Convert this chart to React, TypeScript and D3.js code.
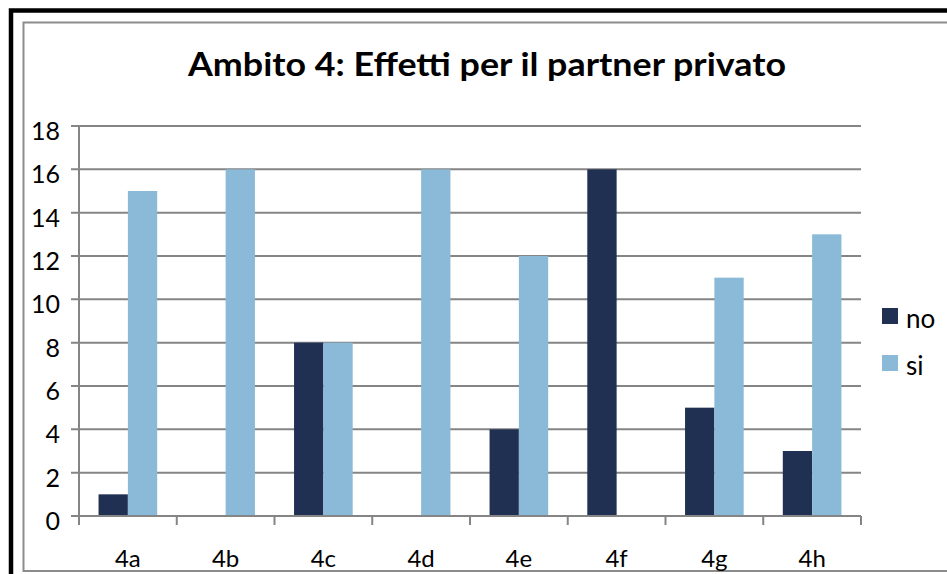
import React, { useEffect, useRef } from 'react';
import * as d3 from 'd3';

const categories = ['4a', '4b', '4c', '4d', '4e', '4f', '4g', '4h'];
const seriesNames = ['no', 'si'];
const noValues = [1, 0, 8, 0, 4, 16, 5, 3];
const siValues = [15, 16, 8, 16, 12, 0, 11, 13];
const yTicks = [0, 2, 4, 6, 8, 10, 12, 14, 16, 18];
const title = 'Ambito 4: Effetti per il partner privato';

const colours = ['#203052', '#8bbad8'];

export default function App() {
    const width = 947;
    const height = 574;
    const marginLeft = 79;
    const marginRight = 86;
    const marginTop = 126;
    const marginBottom = 58;

    const ref = useRef(null);

    useEffect(() => {
        const svg = d3.select(ref.current);
        svg.selectAll('*').remove();

        const font = 'Lato, "Open Sans", sans-serif';

        // frame
        svg.append('rect')
            .attr('x', 11).attr('y', 10.5)
            .attr('width', 1000).attr('height', 1000)
            .attr('fill', 'none').attr('stroke', '#000').attr('stroke-width', 4.5);
        svg.append('rect')
            .attr('x', 23.5).attr('y', 22.5)
            .attr('width', 1000).attr('height', 548.5)
            .attr('fill', 'none').attr('stroke', '#8c8c8c').attr('stroke-width', 2);

        const x0 = d3.scaleBand()
            .domain(categories)
            .range([marginLeft, width - marginRight])
            .paddingInner(0)
            .paddingOuter(0);
        const gap = x0.bandwidth() * 0.2;
        const x1 = d3.scaleBand()
            .domain(seriesNames)
            .range([gap, x0.bandwidth() - gap]);
        const y = d3.scaleLinear()
            .domain([0, 18])
            .range([height - marginBottom, marginTop]);

        const grid = '#858585';

        // gridlines + left tick marks
        svg.append('g')
            .selectAll('line')
            .data(yTicks)
            .enter()
            .append('line')
              .attr('x1', marginLeft - 8)
              .attr('x2', width - marginRight)
              .attr('y1', d => y(d))
              .attr('y2', d => y(d))
              .attr('stroke', grid)
              .attr('stroke-width', 2);

        svg.append('g')
            .selectAll('text')
            .data(yTicks)
            .enter()
            .append('text')
              .attr('x', 60)
              .attr('y', d => y(d) + 14)
              .attr('text-anchor', 'end')
              .attr('font-family', font)
              .attr('font-size', 25)
              .attr('fill', '#000')
              .text(d => d);

        const data = categories.map((c, i) => ({ cat: c, values: [noValues[i], siValues[i]] }));

        const groups = svg.append('g')
            .selectAll('g')
            .data(data)
            .enter()
            .append('g')
              .attr('transform', d => `translate(${x0(d.cat)}, 0)`);

        groups.selectAll('rect')
            .data(d => d.values.map((v, j) => ({ key: seriesNames[j], v, j })))
            .enter()
            .append('rect')
              .attr('x', d => x1(d.key) as number)
              .attr('y', d => y(d.v))
              .attr('width', x1.bandwidth())
              .attr('height', d => y(0) - y(d.v))
              .attr('fill', d => colours[d.j]);

        // axes lines
        svg.append('line')
            .attr('x1', marginLeft).attr('x2', marginLeft)
            .attr('y1', y(18)).attr('y2', y(0) + 9)
            .attr('stroke', grid).attr('stroke-width', 2);
        svg.append('line')
            .attr('x1', marginLeft).attr('x2', width - marginRight)
            .attr('y1', y(0)).attr('y2', y(0))
            .attr('stroke', grid).attr('stroke-width', 2);

        const bounds = categories.map(c => x0(c) as number).concat([width - marginRight]);
        svg.append('g')
            .selectAll('line')
            .data(bounds)
            .enter()
            .append('line')
              .attr('x1', d => d).attr('x2', d => d)
              .attr('y1', y(0)).attr('y2', y(0) + 9)
              .attr('stroke', grid).attr('stroke-width', 2);

        svg.append('g')
            .selectAll('text')
            .data(categories)
            .enter()
            .append('text')
              .attr('x', d => (x0(d) as number) + x0.bandwidth() / 2)
              .attr('y', 567)
              .attr('text-anchor', 'middle')
              .attr('font-family', font)
              .attr('font-size', 24)
              .attr('fill', '#000')
              .text(d => d);

        // title
        svg.append('text')
            .attr('x', 487)
            .attr('y', 76)
            .attr('text-anchor', 'middle')
            .attr('font-family', font)
            .attr('font-weight', 'bold')
            .attr('font-size', 32)
            .attr('textLength', 598)
            .attr('lengthAdjust', 'spacingAndGlyphs')
            .attr('fill', '#000')
            .text(title);

        // legend
        const legend = svg.append('g')
            .selectAll('g')
            .data(seriesNames)
            .enter()
            .append('g')
              .attr('transform', (_d, i) => `translate(882, ${308 + i * 47})`);
        legend.append('rect')
            .attr('width', 16).attr('height', 16)
            .attr('fill', (_d, i) => colours[i]);
        legend.append('text')
            .attr('x', 24)
            .attr('y', 20)
            .attr('font-family', font)
            .attr('font-size', 26)
            .attr('fill', '#000')
            .text(d => d);
    }, []);

    return (
        <svg ref={ref} width={width} height={height} viewBox={`0 0 ${width} ${height}`}
            style={{ position: 'absolute', left: 0, top: 0, background: '#fff' }}>
        </svg>
    );
}
